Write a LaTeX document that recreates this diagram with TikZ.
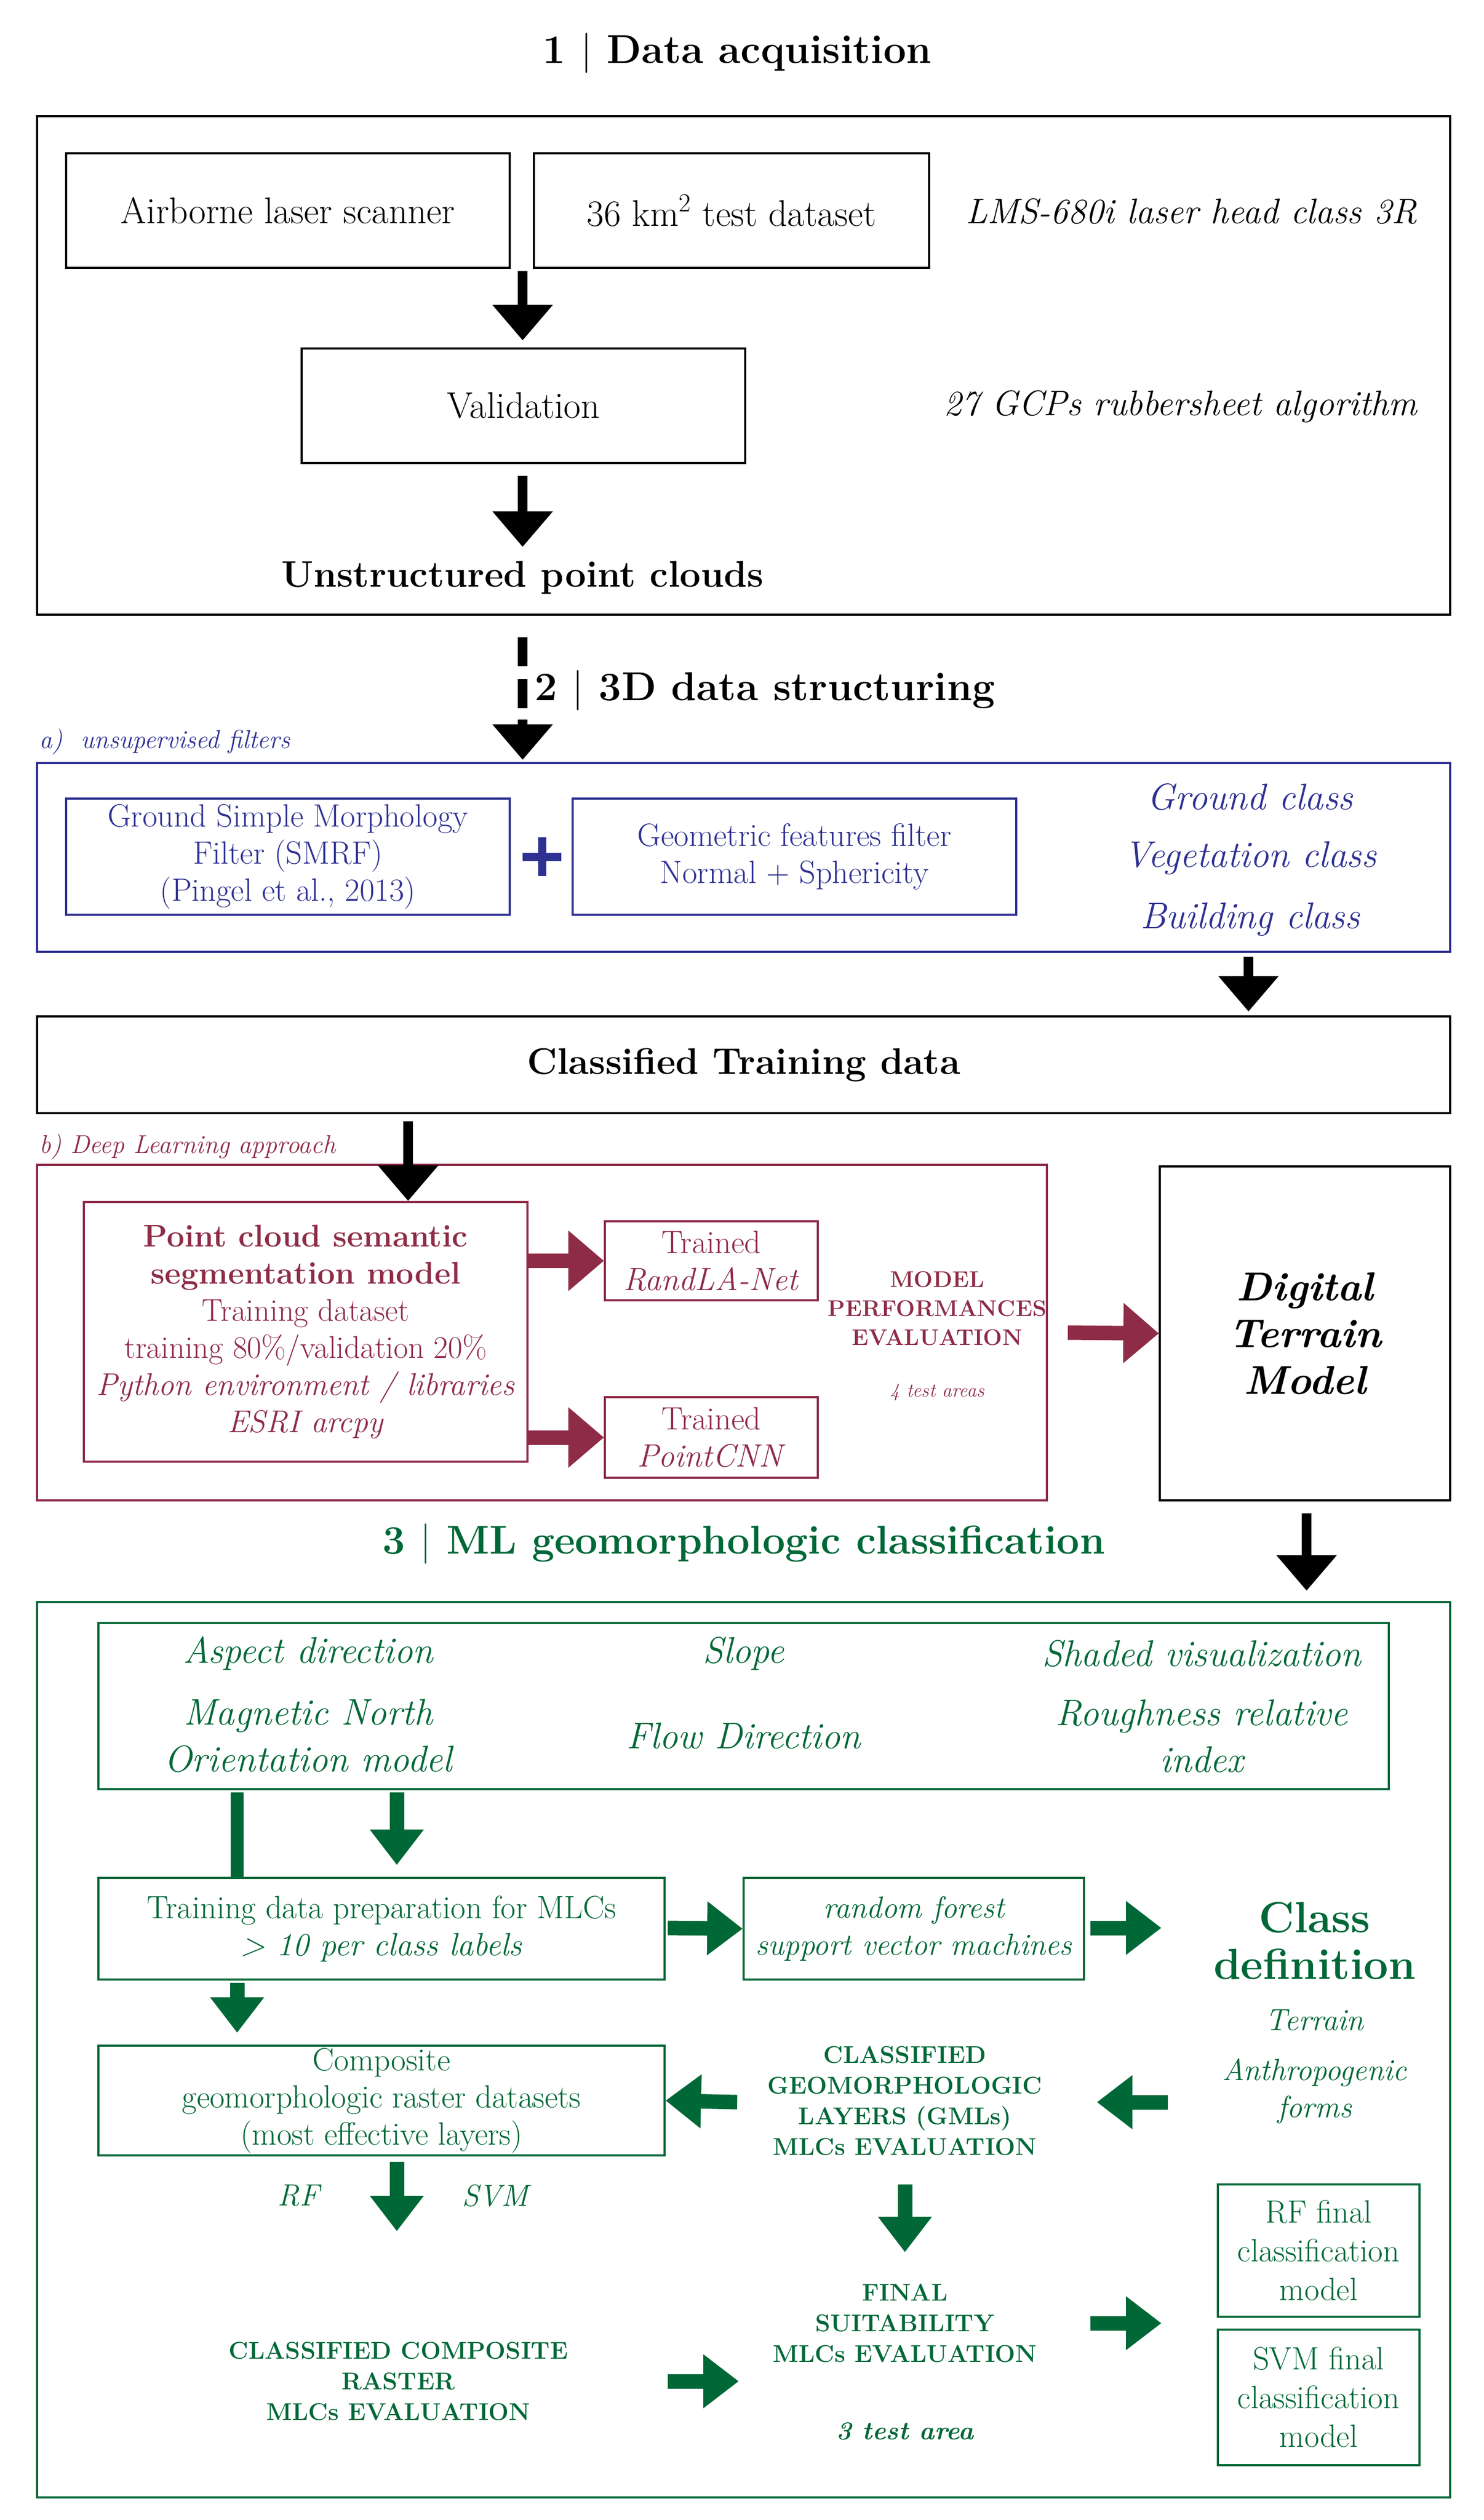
\documentclass[tikz,border=0pt]{standalone}
\usetikzlibrary{arrows.meta,calc}
\definecolor{cblue}{HTML}{2E3192}
\definecolor{cred}{HTML}{8E2C48}
\definecolor{cgreen}{HTML}{006837}
\begin{document}
\begin{tikzpicture}[x=1pt,y=-1pt,
  box/.style={draw,line width=1.2pt,inner sep=0pt},
  t/.style={font=\fontsize{23}{27}\selectfont,align=center},
  ts/.style={font=\fontsize{20}{23}\selectfont,align=center},
  capt/.style={font=\fontsize{15}{19}\selectfont\bfseries,align=center},
  ttl/.style={font=\fontsize{25}{28}\selectfont\bfseries},
  barr/.style={line width=6pt,-{Triangle[width=36pt,length=22pt]}},
  garr/.style={cgreen,line width=9pt,-{Triangle[width=32pt,length=22pt]}},
  rarr/.style={cred,line width=9pt,-{Triangle[width=36pt,length=22pt]}}]
\useasboundingbox (0,0) rectangle (920,1562);
% section 1
\node[ttl] (t1) at (457,33) {1 $|$ Data acquisition};
\draw[box] (23,72) rectangle (899,381);
\node[box,minimum width=275pt,minimum height=71pt,t] (als) at (178.5,130.5) {Airborne laser scanner};
\node[box,minimum width=245pt,minimum height=71pt,t] (ds) at (453.5,130.5) {36 km\textsuperscript{2} test dataset};
\node[t,anchor=east,font=\fontsize{22}{27}\selectfont\itshape] (lms) at (882,131) {LMS-680i laser head class 3R};
\node[box,minimum width=275pt,minimum height=71pt,t] (val) at (324.5,251.5) {Validation};
\node[t,anchor=east,font=\fontsize{22}{27}\selectfont\itshape] (gcp) at (882,252) {27 GCPs rubbersheet algorithm};
\node[t,font=\fontsize{23}{27}\selectfont\bfseries] (upc) at (324,358) {Unstructured point clouds};
\coordinate (a1s) at (324,168); \coordinate (a1e) at (324,211);
\draw[barr] (a1s) -- (a1e);
\coordinate (a2s) at (324,295); \coordinate (a2e) at (324,339);
\draw[barr] (a2s) -- (a2e);
% dashed
\coordinate (d1) at (324,395); \coordinate (d2) at (324,448); \coordinate (d3) at (324,471);
\draw[line width=6pt,dash pattern=on 18pt off 8pt] (d1) -- (d2);
\draw[barr] (324,446) -- (d3);
% section 2
\node[ttl,anchor=west] (t2) at (328,428) {2 $|$ 3D data structuring};
\node[cblue,anchor=west,font=\fontsize{16}{18}\selectfont\itshape] (la) at (21,460) {a)\ \ unsupervised filters};
\draw[box,cblue] (23,473) rectangle (899,590);
\node[box,cblue,minimum width=275pt,minimum height=72pt,ts] (smrf) at (178.5,531) {Ground Simple Morphology\\Filter (SMRF)\\(Pingel et al., 2013)};
\coordinate (plus) at (336,531);
\draw[cblue,line width=5pt] ($(plus)+(-12,0)$) -- ($(plus)+(12,0)$) ($(plus)+(0,-12)$) -- ($(plus)+(0,12)$);
\node[box,cblue,minimum width=275pt,minimum height=72pt,ts] (geo) at (492.5,531) {Geometric features filter\\Normal + Sphericity};
\node[cblue,t,font=\fontsize{23}{27}\selectfont\itshape] (gc) at (775,494) {Ground class};
\node[cblue,t,font=\fontsize{23}{27}\selectfont\itshape] (vc) at (775,532) {Vegetation class};
\node[cblue,t,font=\fontsize{23}{27}\selectfont\itshape] (bc) at (775,570) {Building class};
\coordinate (a3s) at (774,593); \coordinate (a3e) at (774,627);
\draw[barr] (a3s) -- (a3e);
\node[box,minimum width=876pt,minimum height=60pt,font=\fontsize{23}{27}\selectfont\bfseries] (ctd) at (461,660) {Classified Training data};
% deep learning
\node[cred,anchor=west,font=\fontsize{16}{18}\selectfont\itshape] (lb) at (21,711) {b) Deep Learning approach};
\draw[box,cred] (23,722) rectangle (649,930);
\node[box,cred,minimum width=275pt,minimum height=161pt,ts,font=\fontsize{19.5}{23}\selectfont] (pcss) at (189.5,825.5) {\textbf{Point cloud semantic}\\\textbf{segmentation model}\\Training dataset\\training 80\%/validation 20\%\\\textit{Python environment / libraries}\\\textit{ESRI arcpy}};
\coordinate (a4s) at (253,695);
\draw[barr] (a4s) -- (pcss.north -| a4s);
\node[box,cred,minimum width=132pt,minimum height=49pt,ts] (rla) at (441,781.5) {Trained\\\textit{RandLA-Net}};
\node[box,cred,minimum width=132pt,minimum height=50pt,ts] (pcnn) at (441,891) {Trained\\\textit{PointCNN}};
\draw[rarr] (pcss.east |- rla) -- (rla.west);
\draw[rarr] (pcss.east |- pcnn) -- (pcnn.west);
\node[cred,capt,font=\fontsize{14}{18}\selectfont\bfseries] (mpe) at (581,811) {MODEL\\PERFORMANCES\\EVALUATION};
\node[cred,font=\fontsize{12}{13}\selectfont\itshape] (tas) at (581,863) {4 test areas};
\node[box,minimum width=180pt,minimum height=207pt,font=\fontsize{25}{29}\selectfont\bfseries\itshape,align=center] (dtm) at (809,826.5) {Digital\\Terrain\\Model};
\coordinate (a5s) at (662,826);
\draw[rarr] (a5s) -- (dtm.west);
% section 3
\node[ttl,cgreen] (t3) at (461,957) {3 $|$ ML geomorphologic classification};
\coordinate (a6s) at (810,938); \coordinate (a6e) at (810,986);
\draw[barr] (a6s) -- (a6e);
\draw[box,cgreen] (23,993) rectangle (899,1548);
\node[box,cgreen,minimum width=800pt,minimum height=103pt] (lay) at (461,1057.5) {};
\begin{scope}[every node/.style={cgreen,t,font=\fontsize{23}{29}\selectfont\itshape}]
\node (asp) at (191,1025) {Aspect direction};
\node (mn) at (191,1076) {Magnetic North\\Orientation model};
\node (slp) at (461,1025) {Slope};
\node (fd) at (461,1076) {Flow Direction};
\node (sv) at (745,1025) {Shaded visualization};
\node (rr) at (745,1076) {Roughness relative\\index};
\end{scope}
\node[box,cgreen,minimum width=351pt,minimum height=63pt,ts,text=cgreen] (tdp) at (236.5,1195.5) {Training data preparation for MLCs\\\textit{> 10 per class labels}};
\node[box,cgreen,minimum width=211pt,minimum height=63pt,ts,text=cgreen,font=\fontsize{19}{23}\selectfont\itshape] (rf) at (566.5,1195.5) {random forest\\support vector machines};
\coordinate (l1) at (147,1111);
\draw[cgreen,line width=8pt] (l1) -- (l1 |- tdp.north);
\coordinate (a7s) at (246,1111); \coordinate (a7e) at (246,1156);
\draw[garr] (a7s) -- (a7e);
\coordinate (a8s) at (414,1195);
\draw[garr] (a8s) -- (rf.west);
\coordinate (a8b) at (676,1195); \coordinate (a8e) at (720,1195);
\draw[garr] (a8b) -- (a8e);
\node[cgreen,font=\fontsize{27}{29}\selectfont\bfseries,align=center] (cd) at (815,1203) {Class\\definition};
\node[cgreen,ts,font=\fontsize{19}{21}\selectfont\itshape] (ter) at (815,1252) {Terrain};
\node[cgreen,ts,font=\fontsize{19}{23}\selectfont\itshape] (ant) at (815,1296) {Anthropogenic\\forms};
\node[box,cgreen,minimum width=351pt,minimum height=68pt,ts,text=cgreen] (comp) at (236.5,1302) {Composite\\geomorphologic raster datasets\\(most effective layers)};
\coordinate (a9s) at (147,1229); \coordinate (a9e) at (147,1260);
\draw[garr] (a9s) -- (a9e);
\node[cgreen,capt] (cgl) at (561,1302) {CLASSIFIED\\GEOMORPHOLOGIC\\LAYERS (GMLs)\\MLCs EVALUATION};
\coordinate (a10s) at (457,1303);
\draw[garr] (a10s) -- (comp.east);
\coordinate (a11s) at (724,1303); \coordinate (a11e) at (680,1303);
\draw[garr] (a11s) -- (a11e);
\node[cgreen,ts,font=\fontsize{19}{21}\selectfont\itshape] (rfl) at (185,1361) {RF};
\node[cgreen,ts,font=\fontsize{19}{21}\selectfont\itshape] (svl) at (307,1361) {SVM};
\coordinate (a12s) at (246,1340); \coordinate (a12e) at (246,1383);
\draw[garr] (a12s) -- (a12e);
\coordinate (a13s) at (561,1354); \coordinate (a13e) at (561,1396);
\draw[garr] (a13s) -- (a13e);
\node[cgreen,capt] (fse) at (561,1440) {FINAL\\SUITABILITY\\MLCs EVALUATION};
\node[cgreen,font=\fontsize{16}{18}\selectfont\bfseries\itshape] (ta3) at (561,1507) {3 test area};
\node[cgreen,capt] (ccr) at (247,1476) {CLASSIFIED COMPOSITE\\RASTER\\MLCs EVALUATION};
\coordinate (a14s) at (414,1476); \coordinate (a14e) at (458,1476);
\draw[garr] (a14s) -- (a14e);
\node[box,cgreen,minimum width=125pt,minimum height=82pt,ts,text=cgreen,font=\fontsize{20}{24}\selectfont] (rff) at (817.5,1395) {RF final\\classification\\model};
\node[box,cgreen,minimum width=125pt,minimum height=84pt,ts,text=cgreen,font=\fontsize{20}{24}\selectfont] (svf) at (817.5,1486) {SVM final\\classification\\model};
\coordinate (a15s) at (676,1440); \coordinate (a15e) at (720,1440);
\draw[garr] (a15s) -- (a15e);
\end{tikzpicture}
\end{document}
